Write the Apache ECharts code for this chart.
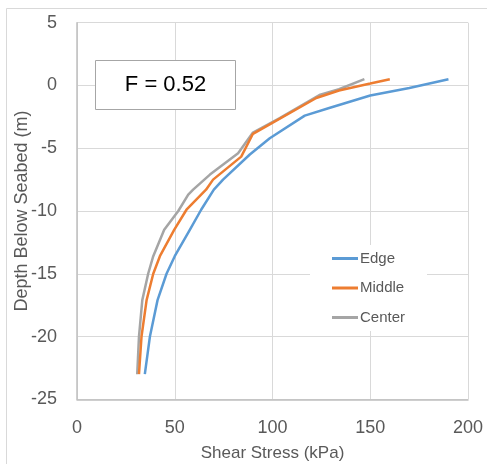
<!DOCTYPE html>
<html>
<head>
<meta charset="utf-8">
<script src="https://cdn.jsdelivr.net/npm/echarts@6/dist/echarts.min.js"></script>
<style>
html,body{margin:0;padding:0;background:#fff;}
#chart{width:487px;height:464px;}
</style>
</head>
<body>
<div id="chart"></div>
<script>
const seriesNames = ['Edge', 'Middle', 'Center'];
const edgeData = [[190,0.5],[170,-0.2],[150,-0.8],[129,-1.8],[116.5,-2.4],[98.6,-4.2],[88.4,-5.5],[74.7,-7.5],[70,-8.3],[63.5,-9.9],[57.7,-11.5],[50,-13.6],[45.8,-15],[41.2,-17.1],[37.3,-20],[34.7,-23]];
const middleData = [[160,0.5],[150,0.15],[134,-0.4],[122.4,-1],[90,-3.85],[84,-5.67],[69.6,-7.5],[66,-8.3],[56,-9.9],[49.7,-11.5],[42.4,-13.6],[39,-15],[35.6,-17.1],[33,-20],[31.7,-23]];
const centerData = [[147,0.5],[134,-0.3],[124,-0.76],[103.7,-2.6],[90,-3.75],[82.4,-5.4],[68,-7.1],[59.4,-8.3],[56.9,-8.7],[51.8,-10],[44.6,-11.5],[39,-13.6],[36.4,-15],[33.4,-17.1],[31.7,-20],[30.8,-23]];
const colors = ['#5B9BD5', '#ED7D31', '#A5A5A5'];
const annotation = 'F = 0.52';
const xTitle = 'Shear Stress (kPa)';
const yTitle = 'Depth Below Seabed (m)';

const FONT = 'Liberation Sans';
const chart = echarts.init(document.getElementById('chart'), null, {renderer:'canvas'});
const mk = (name, data, i) => ({
  name, type:'line', data, symbol:'none', smooth:false,
  lineStyle:{color:colors[i], width:2.5}, itemStyle:{color:colors[i]}, z:3+(2-i)
});
chart.setOption({
  animation:false,
  backgroundColor:'#fff',
  grid:{left:77, right:19, top:22.7, bottom:64.7, containLabel:false, outerBoundsMode:'none'},
  xAxis:{type:'value', min:0, max:200, interval:50,
    name:xTitle, nameLocation:'middle', nameGap:46, nameMoveOverlap:false,
    nameTextStyle:{color:'#595959', fontSize:17, fontFamily:FONT},
    axisLine:{onZero:false, lineStyle:{color:'#BFBFBF', width:1.5}},
    axisTick:{show:false},
    axisLabel:{color:'#595959', fontSize:18, fontFamily:FONT, margin:20},
    splitLine:{lineStyle:{color:'#D9D9D9', width:1}}
  },
  yAxis:{type:'value', min:-25, max:5, interval:5,
    name:yTitle, nameLocation:'middle', nameGap:46, nameRotate:90, nameMoveOverlap:false,
    nameTextStyle:{color:'#595959', fontSize:18, fontFamily:FONT},
    axisLine:{show:true, onZero:false, lineStyle:{color:'#BFBFBF', width:1.5}},
    axisTick:{show:false},
    axisLabel:{color:'#595959', fontSize:18, fontFamily:FONT, margin:20},
    splitLine:{lineStyle:{color:'#D9D9D9', width:1}}
  },
  legend:{orient:'vertical', left:310, top:245, itemWidth:26, itemHeight:3, itemGap:14.5,
    padding:[6,22,6,22], backgroundColor:'#fff', icon:'rect',
    textStyle:{color:'#595959', fontSize:15, fontFamily:FONT, padding:[0,0,0,-3]},
    data:seriesNames},
  series:[mk(seriesNames[0], edgeData, 0), mk(seriesNames[1], middleData, 1), mk(seriesNames[2], centerData, 2)],
  graphic:[
    {type:'rect', shape:{x:6.5, y:8.5, width:500, height:500}, style:{fill:'none', stroke:'#D9D9D9', lineWidth:1}, silent:true, z:-10},
    {type:'rect', shape:{x:95.5, y:60.5, width:140, height:49}, style:{fill:'#fff', stroke:'#A6A6A6', lineWidth:1}, z:100},
    {type:'text', x:165.5, y:85, style:{text:annotation, fill:'#000', fontSize:22, fontFamily:FONT, align:'center', verticalAlign:'middle'}, z:101}
  ]
});
</script>
</body>
</html>
